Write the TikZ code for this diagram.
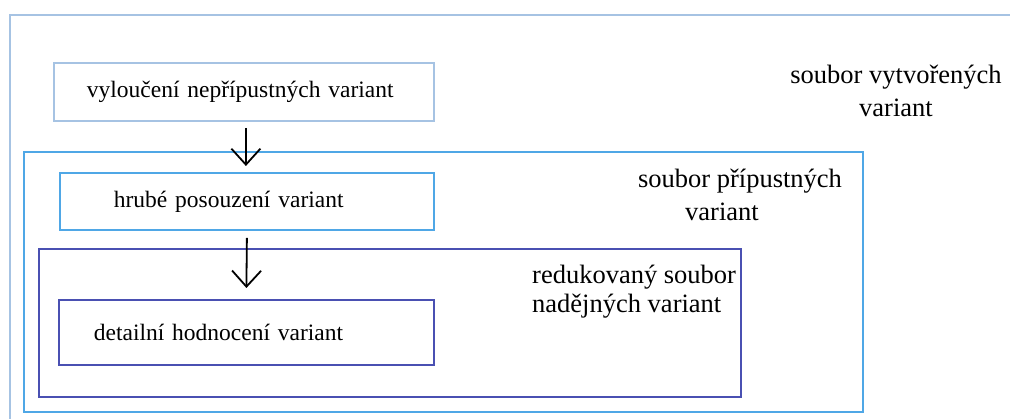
\documentclass[tikz,border=0pt]{standalone}
\usepackage{fontspec}
\setmainfont{Liberation Serif}
\usetikzlibrary{arrows.meta}
\definecolor{outerblue}{HTML}{A6C3E3}
\definecolor{midblue}{HTML}{4FA7E6}
\definecolor{darkblue}{HTML}{4A50B2}
\begin{document}
\begin{tikzpicture}[x=1pt,y=-1pt,
  frame/.style={draw, line width=1.8pt, inner sep=0pt, anchor=north west},
  stepbox/.style={draw, line width=1.8pt, align=left, anchor=north west, inner ysep=0pt,
    font=\fontsize{23.5}{28}\selectfont},
  lbl/.style={font=\fontsize{26.5}{32.5}\selectfont, inner sep=0pt},
  flow/.style={line width=1.8pt, -{Straight Barb[length=16pt,width=29pt,line width=1.8pt]}}]
\useasboundingbox (0,0) rectangle (1010,419);
% outer set (cut off at the right and bottom)
\draw[outerblue, line width=1.8pt] (10,419) -- (10,15) -- (1010,15);
% containers
\node[frame, midblue, minimum width=839pt, minimum height=260pt] (set2) at (23,151) {};
\node[frame, darkblue, minimum width=702pt, minimum height=148pt] (set4) at (38,248) {};
% step boxes
\node[stepbox, draw=outerblue, text width=314pt, inner xsep=33pt, minimum height=58pt] (b1) at (53,62) {vyloučení nepřípustných variant};
\node[stepbox, draw=midblue, text width=266pt, inner xsep=54pt, minimum height=57pt] (b3) at (59,172) {hrubé posouzení variant};
\node[stepbox, draw=darkblue, text width=305pt, inner xsep=35pt, minimum height=65pt] (b5) at (58,299) {detailní hodnocení variant};
% arrows
\draw[flow] ([xshift=2pt,yshift=-6pt]b1.south) -- ([xshift=-1pt,yshift=6pt]b3.north);
\draw[flow] ([yshift=-7pt]b3.south) -- ([yshift=11pt]b5.north);
% labels
\node[lbl, align=center] (l1) at (896,91) {soubor vytvořených\\variant};
\node[lbl, align=center] (l2) at (740,195) {soubor přípustných\\variant\hspace*{36pt}};
\node[lbl, align=left, anchor=west, font=\fontsize{26.5}{29}\selectfont] (l3) at (532,292) {redukovaný soubor\\nadějných variant};
\end{tikzpicture}
\end{document}
